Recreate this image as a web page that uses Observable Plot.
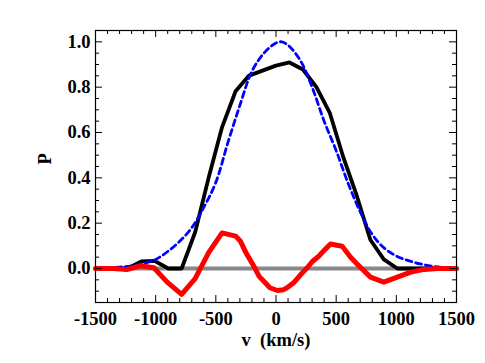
<!DOCTYPE html>
<html>
<head>
<meta charset="utf-8">
<script src="https://cdn.jsdelivr.net/npm/d3@7"></script>
<script src="https://cdn.jsdelivr.net/npm/@observablehq/plot@0.6"></script>
<style>
  html, body { margin: 0; padding: 0; background: #fff; }
  svg { display: block; }
</style>
</head>
<body>
<div id="chart"></div>
<script>
// Observed profile (black)
const blackV = [-1500, -1344, -1232, -1120, -1008, -896, -784, -672, -560, -448, -336, -224, -112, 0, 112, 224, 336, 448, 560, 672, 784, 896, 1008, 1120, 1232, 1344, 1500];
const blackP = [0, 0, 0, 0.031, 0.034, 0, 0, 0.16, 0.40, 0.624, 0.782, 0.851, 0.873, 0.895, 0.909, 0.878, 0.80, 0.685, 0.49, 0.32, 0.127, 0.04, 0, 0, 0, 0, 0];

// Model profile (blue dashed)
const blueV = [-1500, -1400, -1300, -1200, -1100, -1000, -900, -800, -700, -600, -500, -400, -300, -200, -100, 0, 50, 100, 200, 300, 400, 500, 600, 700, 800, 900, 1000, 1100, 1200, 1300, 1400, 1500];
const blueP = [0, 0.002, 0.006, 0.012, 0.022, 0.04, 0.075, 0.12, 0.18, 0.27, 0.38, 0.555, 0.72, 0.87, 0.95, 0.995, 1.0, 0.985, 0.92, 0.80, 0.65, 0.52, 0.375, 0.25, 0.15, 0.09, 0.055, 0.035, 0.02, 0.01, 0.004, 0.001];

// Residual (red)
const redV = [-1500, -1350, -1240, -1125, -1015, -904, -784, -672, -560, -448, -336, -295, -250, -184, -140, -101, -50, 10, 60, 100, 148, 200, 259, 300, 355, 400, 453, 550, 620, 674, 785, 896, 1008, 1120, 1232, 1344, 1500];
const redP = [0, 0, -0.005, 0.012, 0.003, -0.06, -0.114, -0.045, 0.07, 0.157, 0.143, 0.12, 0.07, 0.01, -0.035, -0.056, -0.085, -0.097, -0.094, -0.082, -0.062, -0.03, 0.003, 0.03, 0.054, 0.08, 0.108, 0.098, 0.05, 0.02, -0.038, -0.06, -0.038, -0.016, -0.004, 0, 0];

// Axis ticks
const xMajor = [-1500, -1000, -500, 0, 500, 1000, 1500];
const xMinor = d3.range(-1500, 1501, 100);
const yMajor = [0, 0.2, 0.4, 0.6, 0.8, 1.0];
const yMinor = d3.range(-0.15, 1.051, 0.05).map(d => +d.toFixed(2));

const black = blackV.map((v, i) => ({v, p: blackP[i]}));
const blue = blueV.map((v, i) => ({v, p: blueP[i]}));
const red = redV.map((v, i) => ({v, p: redP[i]}));

const W = 485, H = 363;
const mL = 95, mR = 29, mT = 30, mB = 61;
const plotW = W - mL - mR, plotH = H - mT - mB;
const font = "'Liberation Serif', 'Times New Roman', serif";
const fs = 18.5;

const chart = Plot.plot({
  width: W,
  height: H,
  marginLeft: mL,
  marginRight: mR,
  marginTop: mT,
  marginBottom: mB,
  style: {fontFamily: font, fontWeight: "bold", background: "#fff", color: "#000"},
  x: {domain: [-1500, 1500]},
  y: {domain: [-0.15, 1.05]},
  marks: [
    Plot.ruleY([0], {stroke: "#888888", strokeWidth: 4}),
    Plot.line(black, {x: "v", y: "p", stroke: "#000", strokeWidth: 3.8, strokeLinejoin: "miter"}),
    Plot.line(blue, {x: "v", y: "p", stroke: "#0000ff", strokeWidth: 2.8, strokeDasharray: "6,4", curve: "catmull-rom"}),
    Plot.line(red, {x: "v", y: "p", stroke: "#ff0000", strokeWidth: 5, strokeLinejoin: "round"}),
    Plot.frame({stroke: "#000", strokeWidth: 1.2}),
    // inward ticks on all four sides
    Plot.tickX(xMajor, {x: d => d, insetTop: plotH - 7, stroke: "#000", strokeWidth: 1}),
    Plot.tickX(xMajor, {x: d => d, insetBottom: plotH - 7, stroke: "#000", strokeWidth: 1}),
    Plot.tickX(xMinor.filter(d => !xMajor.includes(d)), {x: d => d, insetTop: plotH - 4, stroke: "#000", strokeWidth: 1}),
    Plot.tickX(xMinor.filter(d => !xMajor.includes(d)), {x: d => d, insetBottom: plotH - 4, stroke: "#000", strokeWidth: 1}),
    Plot.tickY(yMajor, {y: d => d, insetRight: plotW - 7, stroke: "#000", strokeWidth: 1}),
    Plot.tickY(yMajor, {y: d => d, insetLeft: plotW - 7, stroke: "#000", strokeWidth: 1}),
    Plot.tickY(yMinor.filter(d => !yMajor.some(m => Math.abs(m - d) < 1e-9)), {y: d => d, insetRight: plotW - 4, stroke: "#000", strokeWidth: 1}),
    Plot.tickY(yMinor.filter(d => !yMajor.some(m => Math.abs(m - d) < 1e-9)), {y: d => d, insetLeft: plotW - 4, stroke: "#000", strokeWidth: 1}),
    Plot.axisX({ticks: xMajor, tickSize: 0, tickPadding: 9, tickFormat: d => (d < 0 ? "-" + Math.abs(d) : String(d)), fontSize: fs, fontWeight: "bold", label: null}),
    Plot.axisY({ticks: yMajor, tickSize: 0, tickPadding: 5, tickFormat: d => d.toFixed(1), fontSize: fs, fontWeight: "bold", label: null}),
    Plot.text(["v\u00a0 (km/s)"], {frameAnchor: "bottom", dy: 43, fontSize: fs, fontWeight: "bold", fill: "#000"}),
    Plot.text(["P"], {frameAnchor: "left", dx: -50, dy: -2, rotate: -90, fontSize: fs, fontWeight: "bold", fill: "#000"})
  ]
});
document.getElementById("chart").appendChild(chart);
</script>
</body>
</html>
